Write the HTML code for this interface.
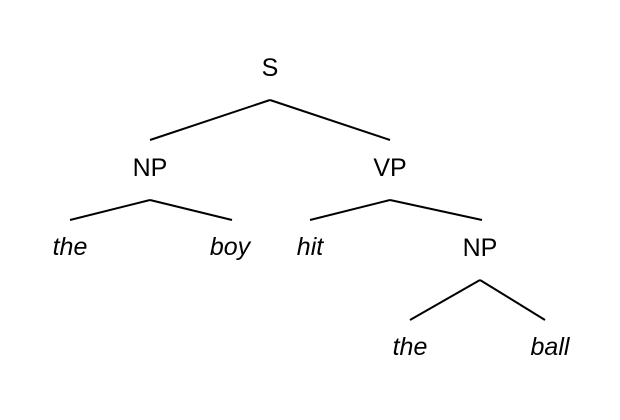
<!DOCTYPE html>
<html><head><style>body{margin:0;background:#fff}</style></head><body>
<svg width="620" height="420" xmlns="http://www.w3.org/2000/svg" style="display:block">
<g stroke="#000" stroke-width="2" fill="none">
<line x1="270" y1="100" x2="150" y2="140"/>
<line x1="270" y1="100" x2="390" y2="140"/>
<line x1="150" y1="200" x2="70" y2="220"/>
<line x1="150" y1="200" x2="232" y2="220"/>
<line x1="390" y1="200" x2="310" y2="220"/>
<line x1="390" y1="200" x2="482" y2="220"/>
<line x1="480" y1="280" x2="410" y2="320"/>
<line x1="480" y1="280" x2="545" y2="320"/>
</g>
<g font-family="Liberation Sans, sans-serif" font-size="25" text-anchor="middle" fill="#000">
<text x="270" y="76">S</text>
<text x="150" y="176">NP</text>
<text x="390" y="176">VP</text>
<text x="480" y="256">NP</text>
<g font-style="italic">
<text x="70" y="255">the</text>
<text x="230" y="255">boy</text>
<text x="310" y="255">hit</text>
<text x="410" y="355">the</text>
<text x="550" y="355">ball</text>
</g>
</g>
</svg>
</body></html>
